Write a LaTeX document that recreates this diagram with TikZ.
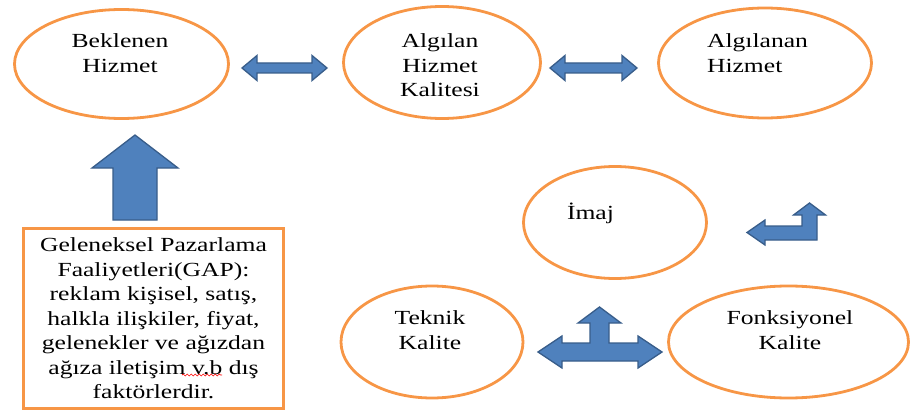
\documentclass[tikz,border=0pt]{standalone}
\usepackage{fontspec}
\setmainfont{Liberation Serif}[FakeStretch=1.28]
\usetikzlibrary{shapes.geometric,decorations.pathmorphing}
\definecolor{ovalorange}{HTML}{F79646}
\definecolor{arrowfill}{HTML}{4F81BD}
\definecolor{arrowline}{HTML}{385D8A}

\begin{document}
\begin{tikzpicture}[
  x=1pt, y=-1pt,
  oval/.style={ellipse, draw=ovalorange, line width=2.8pt, inner sep=0pt},
  lbl/.style={align=center, inner sep=0pt, font=\fontsize{20}{24.5}\selectfont},
  gapbox/.style={draw=ovalorange, line width=2.8pt, minimum width=260pt, minimum height=180pt,
    inner sep=0pt, align=center, font=\fontsize{20}{24.5}\selectfont},
  blockarrow/.style={fill=arrowfill, draw=arrowline, line width=1.3pt, line join=miter},
  spellwave/.style={red, line width=0.7pt, decorate,
    decoration={snake, segment length=4pt, amplitude=1pt}}
]
  \useasboundingbox (0,0) rectangle (911,412);

  % top row
  \node[oval, minimum width=214pt, minimum height=109pt] (bek) at (121.5,64) {};
  \node[oval, minimum width=197pt, minimum height=112pt] (alg) at (442,62.5) {};
  \node[oval, minimum width=213pt, minimum height=110pt] (algn) at (765,63) {};
  \node[lbl] (bek-t) at (120,53.4) {Beklenen\\Hizmet};
  \node[lbl] (alg-t) at (440,65.6) {Algılan\\Hizmet\\Kalitesi};
  \node[lbl, align=left] (algn-t) at (757.5,53.4) {Algılanan\\Hizmet};

  % lower group
  \node[oval, minimum width=183pt, minimum height=112pt] (imaj) at (615,222.5) {};
  \node[oval, minimum width=182pt, minimum height=112pt] (tek) at (432,342) {};
  \node[oval, minimum width=240pt, minimum height=112pt] (fonk) at (788.5,342) {};
  \node[lbl] (imaj-t) at (590.5,213.6) {İmaj};
  \node[lbl] (tek-t) at (430,330) {Teknik\\Kalite};
  \node[lbl] (fonk-t) at (790,330) {Fonksiyonel\\Kalite};

  % GAP box
  \node[gapbox] (gap) at (153.5,318.5) {Geleneksel Pazarlama\\Faaliyetleri(GAP):\\reklam kişisel, satış,\\halkla ilişkiler, fiyat,\\gelenekler ve ağızdan\\ağıza iletişim v.b dış\\faktörlerdir.};
  \coordinate (wave-a) at (182,375);
  \coordinate (wave-b) at (222,375);
  \draw[spellwave] (wave-a) -- (wave-b);

  % block arrows
  \draw[blockarrow] (242,68) -- (257,55.5) -- (257,63) -- (312,63) -- (312,55.5) -- (327,68)
    -- (312,80.5) -- (312,73) -- (257,73) -- (257,80.5) -- cycle;
  \draw[blockarrow] (550,68) -- (565,55.5) -- (565,63) -- (622,63) -- (622,55.5) -- (637,68)
    -- (622,80.5) -- (622,73) -- (565,73) -- (565,80.5) -- cycle;
  \draw[blockarrow] (135,135) -- (178,168) -- (157,168) -- (157,220) -- (113,220) -- (113,168)
    -- (92,168) -- cycle;
  \draw[blockarrow] (747,232.5) -- (765,220) -- (765,226) -- (802,226) -- (802,215) -- (793.5,215)
    -- (809.5,203) -- (825.5,215) -- (817,215) -- (817,240) -- (765,240) -- (765,245) -- cycle;
  \draw[blockarrow] (538,352) -- (562,336) -- (562,343) -- (590,343) -- (590,323) -- (578,323)
    -- (599.5,307) -- (621,323) -- (609,323) -- (609,343) -- (638,343) -- (638,336) -- (662,352)
    -- (638,368) -- (638,361) -- (562,361) -- (562,368) -- cycle;

\end{tikzpicture}
\end{document}
